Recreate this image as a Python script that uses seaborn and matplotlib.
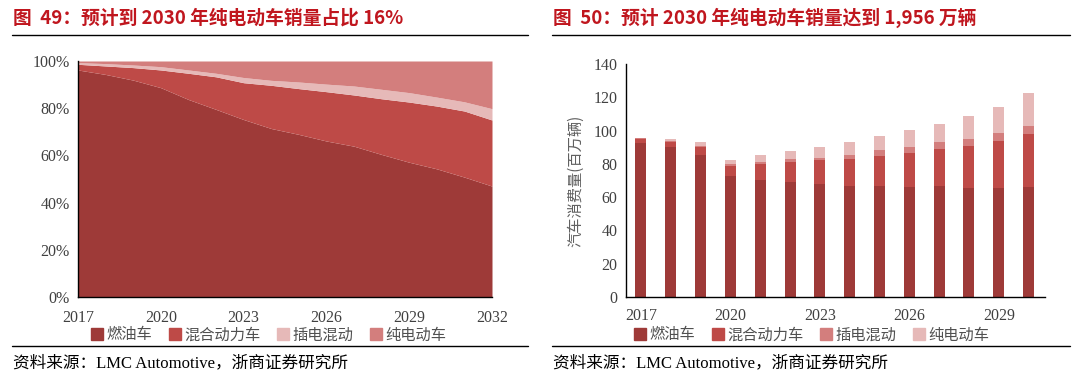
import numpy as np
import pandas as pd
import matplotlib
matplotlib.use("Agg")
import matplotlib.pyplot as plt
from matplotlib.lines import Line2D
from matplotlib.ticker import FuncFormatter
import seaborn as sns

# ---------------- data ----------------
area_years = list(range(2017, 2033))
share_ice = [96.2, 94.3, 91.9, 88.7, 83.7, 79.5, 75.2, 71.4, 68.9, 66.1, 63.9, 60.4, 57.1, 54.3, 50.8, 47.0]
share_hev = [2.4, 3.6, 5.3, 7.5, 11.1, 13.8, 15.6, 18.3, 19.4, 20.9, 21.7, 23.6, 25.5, 26.6, 28.0, 28.0]
share_phev = [0.7, 1.0, 1.1, 1.4, 1.4, 1.5, 2.2, 2.1, 2.8, 3.2, 3.8, 4.0, 4.0, 3.8, 3.9, 4.8]
share_bev = [0.7, 1.1, 1.7, 2.4, 3.8, 5.2, 7.0, 8.2, 8.9, 9.8, 10.6, 12.0, 13.4, 15.3, 17.3, 20.2]

bar_years = list(range(2017, 2031))
vol_ice = [92.5, 89.9, 85.5, 72.7, 70.5, 69.3, 67.9, 66.5, 66.5, 65.9, 66.5, 65.5, 65.5, 65.9]
vol_hev = [2.2, 3.2, 4.6, 5.9, 9.5, 11.7, 14.3, 16.5, 18.1, 20.8, 22.4, 25.2, 28.4, 32.1]
vol_phev = [0.7, 0.8, 0.6, 1.6, 1.4, 2.0, 1.6, 2.5, 3.5, 3.4, 4.0, 4.2, 4.5, 5.0]
vol_bev = [0.4, 0.8, 2.2, 2.2, 3.7, 4.5, 6.5, 7.6, 8.5, 10.1, 11.1, 13.8, 15.7, 19.4]

series_names = ["燃油车", "混合动力车", "插电混动", "纯电动车"]
left_ticks = [2017, 2020, 2023, 2026, 2029, 2032]
right_tick_labels = ["2017", "2020", "2023", "2026", "2029"]

title_left = "图  49：预计到 2030 年纯电动车销量占比 16%"
title_right = "图  50：预计 2030 年纯电动车销量达到 1,956 万辆"
source_text = "资料来源：LMC Automotive，浙商证券研究所"
ylabel_right = "汽车消费量(百万辆)"

# ---------------- style ----------------
sns.set_theme(style="white")
plt.rcParams["font.family"] = ["Liberation Serif", "Noto Sans CJK SC", "DejaVu Sans"]
plt.rcParams["axes.unicode_minus"] = False

C_ICE = "#9E3A38"
C_HEV = "#BE4A47"
C_LIGHT = "#E6B9B8"
C_SALMON = "#D37E7D"
TITLE_RED = "#C0161E"
TICK_COLOR = "#404040"

fig = plt.figure(figsize=(10.8, 3.84), dpi=100)

# ---------------- left: stacked area ----------------
axL = fig.add_axes([78 / 1080, 1 - 297 / 384, (492 - 78) / 1080, (297 - 61) / 384])
sh = np.array([share_ice, share_hev, share_phev, share_bev]) / 100.0
colors_left = [C_ICE, C_HEV, C_LIGHT, C_SALMON]
axL.stackplot(area_years, sh, colors=colors_left, linewidth=0)
axL.set_xlim(2017, 2032)
axL.set_ylim(0, 1.0)
axL.set_xticks(left_ticks)
axL.set_yticks(np.arange(0, 1.01, 0.2))
axL.yaxis.set_major_formatter(FuncFormatter(lambda v, p: f"{v*100:.0f}%"))

# ---------------- right: stacked bars ----------------
axR = fig.add_axes([626 / 1080, 1 - 297 / 384, (1045 - 626) / 1080, (297 - 64) / 384])
layers = [vol_ice, vol_hev, vol_phev, vol_bev]
colors_right = [C_ICE, C_HEV, C_SALMON, C_LIGHT]
cum = np.cumsum(np.array(layers), axis=0)
df = pd.DataFrame({"year": [str(y) for y in bar_years]})
for i in range(3, -1, -1):
    df["cum"] = cum[i]
    sns.barplot(data=df, x="year", y="cum", color=colors_right[i], saturation=1,
                width=0.37, ax=axR, linewidth=0, order=df["year"].tolist())
axR.set_xlim(-0.5, 13.55)
axR.set_ylim(0, 140)
axR.set_yticks(np.arange(0, 141, 20))
axR.set_xticks([0, 3, 6, 9, 12])
axR.set_xticklabels(right_tick_labels)
axR.set_xlabel("")
axR.set_ylabel(ylabel_right, family=["Noto Sans CJK SC"], fontsize=11, color="#606060", labelpad=7)

for ax in (axL, axR):
    for s in ("top", "right"):
        ax.spines[s].set_visible(False)
    for s in ("left", "bottom"):
        ax.spines[s].set_color("black")
        ax.spines[s].set_linewidth(1.0)
    ax.tick_params(axis="both", which="major", direction="out", length=3, width=0.8,
                   colors="black", labelcolor=TICK_COLOR, labelsize=11.5)
    ax.tick_params(axis="x", pad=6)
    ax.tick_params(axis="y", pad=3)
    ax.grid(False)
    ax.set_facecolor("white")
axR.tick_params(axis="x", length=0, pad=8)

# ---------------- legends ----------------
def make_handles(names, cols):
    return [Line2D([0], [0], marker="s", linestyle="none", markersize=9,
                   markerfacecolor=c, markeredgecolor=c, label=n) for n, c in zip(names, cols)]

for cols, cx in ((colors_left, 268), (colors_right, 811)):
    fig.legend(handles=make_handles(series_names, cols), loc="center",
               bbox_to_anchor=(cx / 1080, 1 - 335 / 384), ncol=4, frameon=False,
               prop={"family": ["Noto Sans CJK SC"], "size": 11}, handletextpad=0.1,
               columnspacing=1.0, handlelength=1.0, labelcolor="#505050",
               borderpad=0.1)

# ---------------- titles, rules, sources ----------------
fig.text(13 / 1080, 1 - 18 / 384, title_left, ha="left", va="center", fontsize=13.5,
         fontweight="bold", color=TITLE_RED, family=["Noto Sans CJK SC", "DejaVu Sans"])
fig.text(553 / 1080, 1 - 18 / 384, title_right, ha="left", va="center", fontsize=13.5,
         fontweight="bold", color=TITLE_RED, family=["Noto Sans CJK SC", "DejaVu Sans"])

for (x0, x1) in [(12, 528), (552, 1070)]:
    for yy in (35, 346):
        fig.add_artist(Line2D([x0 / 1080, x1 / 1080], [1 - yy / 384, 1 - yy / 384],
                              color="black", linewidth=1.0, transform=fig.transFigure))

for x0 in (13, 553):
    fig.text(x0 / 1080, 1 - 363 / 384, source_text, ha="left", va="center", fontsize=12,
             color="black", family=["Liberation Serif", "Noto Sans CJK SC"])

fig.savefig("out.png", dpi=100, facecolor="white")
